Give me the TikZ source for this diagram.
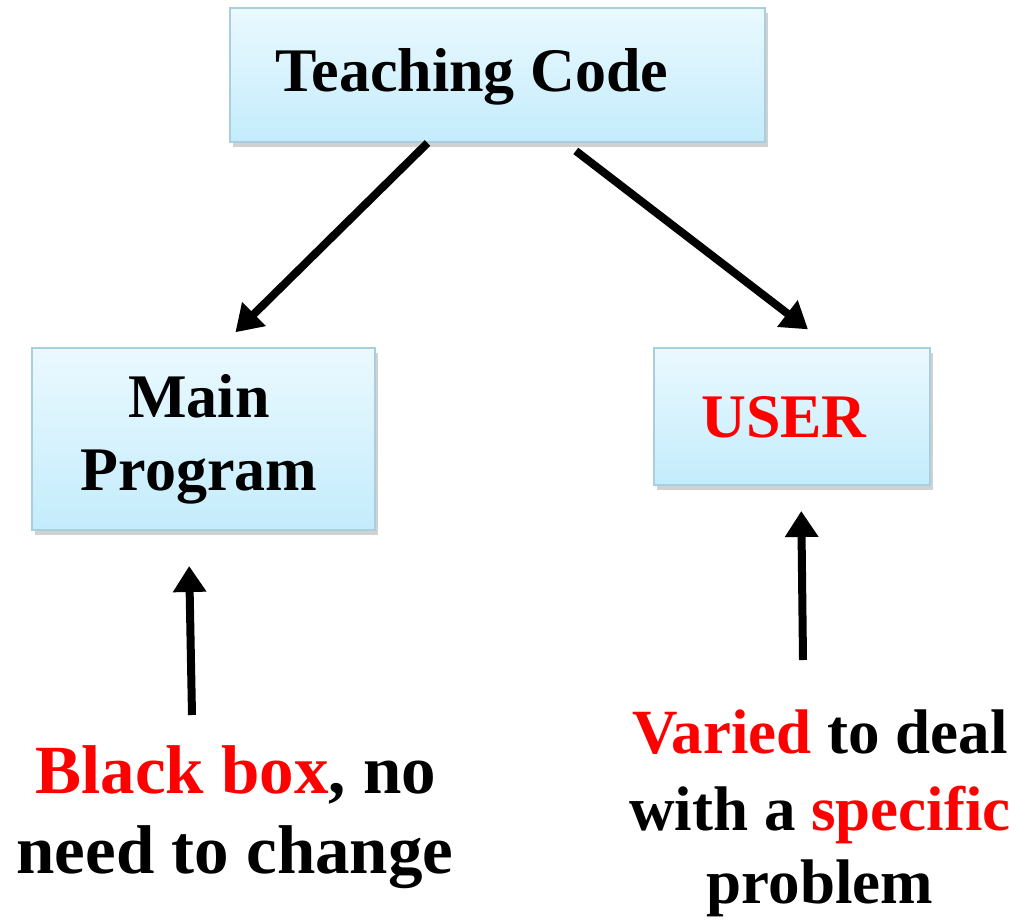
\documentclass[tikz,border=0pt]{standalone}
\usepackage{fontspec}
\setmainfont{Liberation Serif}
\usetikzlibrary{arrows.meta,shadows}
\definecolor{boxtop}{HTML}{EAF9FE}
\definecolor{boxbot}{HTML}{C4ECFC}
\definecolor{boxline}{HTML}{A9CFDE}
\definecolor{hot}{HTML}{FF0000}
\tikzset{
  codebox/.style={draw=boxline, line width=2pt, top color=boxtop, bottom color=boxbot,
    drop shadow={shadow xshift=3pt, shadow yshift=-5pt, fill=black!40, opacity=0.45},
    inner sep=0pt},
  boxtext/.style={anchor=base, inner sep=0pt, font=\fontsize{62}{73}\selectfont\bfseries},
  notetext/.style={anchor=base, inner sep=0pt, font=\fontsize{63}{75}\selectfont\bfseries},
  bignote/.style={anchor=base, inner sep=0pt, font=\fontsize{69}{80}\selectfont\bfseries},
  flow/.style={line width=8pt, -{Triangle[length=26pt,width=32pt]}}
}
\begin{document}
\begin{tikzpicture}[x=1pt,y=-1pt]
\useasboundingbox (0,0) rectangle (1016,920);

% boxes
\node[codebox, minimum width=535pt, minimum height=134pt] (tc) at (497.5,75) {};
\node[codebox, minimum width=343pt, minimum height=182pt] (mp) at (203.5,439) {};
\node[codebox, minimum width=276pt, minimum height=137pt] (us) at (792,416.5) {};

% box labels
\node[boxtext] (tclabel) at (472,92) {Teaching Code};
\node[boxtext] (mplabel1) at (199,417) {Main};
\node[boxtext] (mplabel2) at (199,490) {Program};
\node[boxtext, text=hot] (uslabel) at (784,437) {USER};

% notes
\node[bignote] (bb1) at (236,793) {\textcolor{hot}{Black box}, no};
\node[bignote] (bb2) at (235,873) {need to change};
\node[notetext] (vr1) at (820,753) {\textcolor{hot}{Varied} to deal};
\node[notetext] (vr2) at (820,830) {with a \textcolor{hot}{specific}};
\node[notetext] (vr3) at (820,903) {problem};

\coordinate (bbtip) at (192,715);
\coordinate (vrtip) at (803,660);

% connectors
\draw[flow, shorten >=21pt] ([xshift=-70pt]tc.south) -- ([xshift=17pt]mp.north);
\draw[flow, shorten <=13pt, shorten >=29pt] ([xshift=68pt]tc.south) -- ([xshift=39pt]us.north);
\draw[flow, shorten >=35pt] (bbtip) -- ([xshift=-15pt]mp.south);
\draw[flow, shorten >=25pt] (vrtip) -- ([xshift=9pt]us.south);
\end{tikzpicture}
\end{document}
